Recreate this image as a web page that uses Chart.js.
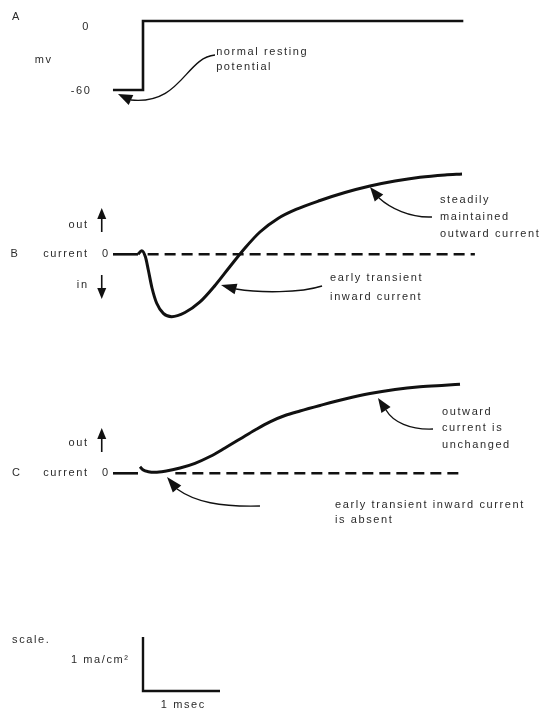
<!DOCTYPE html>
<html>
<head>
<meta charset="utf-8">
<script src="https://cdn.jsdelivr.net/npm/chart.js@4/dist/chart.umd.min.js"></script>
<style>
  html, body { margin: 0; padding: 0; background: #ffffff; }
  #wrap { width: 548px; height: 710px; }
</style>
</head>
<body>
<div id="wrap"><canvas id="c" width="548" height="710"></canvas></div>
<script>
// ---------- DATA (time in msec, voltage in mV, current in ma/cm^2) ----------
// Panel A: voltage-clamp step from resting potential to 0 mV
const stepTime = [-0.39, 0, 0, 4.16];
const stepMv   = [-60, -60, 0, 0];

// Panel B: normal membrane current
const leadBTime = [-0.39, -0.065];
const leadBCurrent = [0, 0];
const normalTime    = [-0.065, -0.017, 0.032, 0.069, 0.117, 0.178, 0.264, 0.373, 0.545, 0.740, 0.935, 1.130, 1.325, 1.519, 1.753, 1.987, 2.299, 2.623, 2.948, 3.273, 3.597, 3.922, 4.143];
const normalCurrent = [0, 0.067, -0.05, -0.291, -0.624, -0.907, -1.093, -1.156, -1.078, -0.883, -0.578, -0.226, 0.117, 0.413, 0.663, 0.830, 0.996, 1.144, 1.265, 1.357, 1.426, 1.469, 1.487];
const baselineBTime = [0.06, 4.31];
const baselineBCurrent = [0, 0];

// Panel C: current with the early inward current absent
const leadCTime = [-0.39, -0.065];
const leadCCurrent = [0, 0];
const blockedTime    = [-0.039, 0.004, 0.069, 0.156, 0.286, 0.481, 0.675, 0.870, 1.065, 1.260, 1.455, 1.649, 1.844, 2.039, 2.299, 2.623, 2.948, 3.273, 3.597, 3.922, 4.117];
const blockedCurrent = [0.122, 0.061, 0.030, 0.019, 0.039, 0.098, 0.185, 0.311, 0.469, 0.635, 0.802, 0.954, 1.070, 1.154, 1.256, 1.376, 1.478, 1.552, 1.602, 1.631, 1.648];
const baselineCTime = [0.42, 4.16];
const baselineCCurrent = [0, 0];

// Scale bar: 1 msec by 1 ma/cm^2
const scaleTime = [0, 0, 1];
const scaleValue = [1, 0, 0];

// Tick-style labels
const panelALabels = ['0', '-60'];
const panelLabels = ['A', 'B', 'C'];

// ---------- helpers ----------
const pts = (xs, ys) => xs.map((x, i) => ({ x: x, y: ys[i] }));

const lineDs = (data, axis, opts) => Object.assign({
  data: data, yAxisID: axis, borderColor: '#111', borderWidth: 3,
  pointRadius: 0, fill: false, tension: 0, borderCapStyle: 'butt', borderJoinStyle: 'round'
}, opts || {});

// ---------- annotations (text & arrows, in data units of each panel) ----------
const texts = [
  // panel A
  { axis: 'yA', t: -1.70, v: 3.5, s: panelLabels[0], align: 'left' },
  { axis: 'yA', t: -0.75, v: -4.9, s: panelALabels[0], align: 'center' },
  { axis: 'yA', t: -1.30, v: -33.9, s: 'mv', align: 'center' },
  { axis: 'yA', t: -0.69, v: -61.2, s: panelALabels[1], align: 'right' },
  { axis: 'yA', t: 0.95, v: -26.7, s: 'normal resting', align: 'left' },
  { axis: 'yA', t: 0.95, v: -39.7, s: 'potential', align: 'left' },
  // panel B
  { axis: 'yB', t: -0.727, v: 0.543, s: 'out', align: 'right' },
  { axis: 'yB', t: -1.72, v: 0, s: panelLabels[1], align: 'left' },
  { axis: 'yB', t: -0.727, v: 0, s: 'current', align: 'right' },
  { axis: 'yB', t: -0.494, v: 0, s: '0', align: 'center' },
  { axis: 'yB', t: -0.727, v: -0.569, s: 'in', align: 'right' },
  { axis: 'yB', t: 2.43, v: -0.444, s: 'early transient', align: 'left' },
  { axis: 'yB', t: 2.43, v: -0.785, s: 'inward current', align: 'left' },
  { axis: 'yB', t: 3.857, v: 1.006, s: 'steadily', align: 'left' },
  { axis: 'yB', t: 3.857, v: 0.696, s: 'maintained', align: 'left' },
  { axis: 'yB', t: 3.857, v: 0.376, s: 'outward current', align: 'left' },
  // panel C
  { axis: 'yC', t: -0.727, v: 0.556, s: 'out', align: 'right' },
  { axis: 'yC', t: -1.70, v: 0, s: panelLabels[2], align: 'left' },
  { axis: 'yC', t: -0.727, v: 0, s: 'current', align: 'right' },
  { axis: 'yC', t: -0.494, v: 0, s: '0', align: 'center' },
  { axis: 'yC', t: 3.883, v: 1.141, s: 'outward', align: 'left' },
  { axis: 'yC', t: 3.883, v: 0.833, s: 'current is', align: 'left' },
  { axis: 'yC', t: 3.883, v: 0.525, s: 'unchanged', align: 'left' },
  { axis: 'yC', t: 2.494, v: -0.586, s: 'early transient inward current', align: 'left' },
  { axis: 'yC', t: 2.494, v: -0.864, s: 'is absent', align: 'left' },
  // scale
  { axis: 'yS', t: -1.70, v: 0.944, s: 'scale.', align: 'left' },
  { axis: 'yS', t: -0.195, v: 0.574, s: '1 ma/cm\u00B2', align: 'right' },
  { axis: 'yS', t: 0.513, v: -0.259, s: '1 msec', align: 'center' }
];

const curvedArrows = [
  { axis: 'yA', p: [[0.935, -29.6], [0.55, -32.0], [0.50, -73.0], [-0.156, -68.7]], tip: [-0.325, -63.5] },
  { axis: 'yB', p: [[2.325, -0.587], [2.039, -0.717], [1.519, -0.717], [1.208, -0.643]], tip: [1.013, -0.569] },
  { axis: 'yB', p: [[3.753, 0.691], [3.468, 0.672], [3.208, 0.857], [3.065, 1.043]], tip: [2.948, 1.246] },
  { axis: 'yC', p: [[3.766, 0.820], [3.468, 0.802], [3.247, 0.950], [3.156, 1.172]], tip: [3.052, 1.394] },
  { axis: 'yC', p: [[1.519, -0.606], [1.0, -0.624], [0.675, -0.531], [0.442, -0.291]], tip: [0.312, -0.069] }
];

const straightArrows = [
  { axis: 'yB', t: -0.536, from: 0.413, to: 0.857 },
  { axis: 'yB', t: -0.536, from: -0.383, to: -0.828 },
  { axis: 'yC', t: -0.536, from: 0.394, to: 0.839 }
];

function arrowHead(ctx, bx, by, tx, ty, len, half) {
  const a = Math.atan2(ty - by, tx - bx);
  const cx = tx - Math.cos(a) * len, cy = ty - Math.sin(a) * len;
  ctx.beginPath();
  ctx.moveTo(tx, ty);
  ctx.lineTo(cx + Math.sin(a) * half, cy - Math.cos(a) * half);
  ctx.lineTo(cx - Math.sin(a) * half, cy + Math.cos(a) * half);
  ctx.closePath();
  ctx.fill();
}

const annotatePlugin = {
  id: 'annotate',
  afterDatasetsDraw(chart) {
    const ctx = chart.ctx;
    const X = v => chart.scales.x.getPixelForValue(v);
    const Y = (ax, v) => chart.scales[ax].getPixelForValue(v);
    ctx.save();
    // text
    ctx.fillStyle = '#2b2b2b';
    ctx.font = '11px "Liberation Sans", Arial, sans-serif';
    ctx.textBaseline = 'middle';
    if ('letterSpacing' in ctx) ctx.letterSpacing = '1.6px';
    texts.forEach(o => {
      ctx.textAlign = o.align;
      let x = X(o.t);
      if (o.align === 'right' && 'letterSpacing' in ctx) x += 1.6;
      if (o.align === 'center' && 'letterSpacing' in ctx) x += 0.8;
      ctx.fillText(o.s, x, Y(o.axis, o.v));
    });
    // curved arrows
    ctx.strokeStyle = '#111';
    ctx.fillStyle = '#111';
    ctx.lineWidth = 1.4;
    curvedArrows.forEach(a => {
      const q = a.p.map(p => [X(p[0]), Y(a.axis, p[1])]);
      const tip = [X(a.tip[0]), Y(a.axis, a.tip[1])];
      ctx.beginPath();
      ctx.moveTo(q[0][0], q[0][1]);
      ctx.bezierCurveTo(q[1][0], q[1][1], q[2][0], q[2][1], q[3][0], q[3][1]);
      ctx.stroke();
      const len = Math.hypot(tip[0] - q[3][0], tip[1] - q[3][1]);
      arrowHead(ctx, q[3][0], q[3][1], tip[0], tip[1], len, 5.5);
    });
    // straight out/in arrows
    ctx.lineWidth = 1.6;
    straightArrows.forEach(a => {
      const x = X(a.t), y0 = Y(a.axis, a.from), y1 = Y(a.axis, a.to);
      ctx.beginPath();
      ctx.moveTo(x, y0);
      ctx.lineTo(x, y1 + (y1 < y0 ? 6 : -6));
      ctx.stroke();
      arrowHead(ctx, x, y0, x, y1, 11, 4.5);
    });
    ctx.restore();
  }
};

new Chart(document.getElementById('c'), {
  type: 'line',
  data: {
    datasets: [
      lineDs(pts(stepTime, stepMv), 'yA', { borderWidth: 2.6, borderJoinStyle: 'miter' }),
      lineDs(pts(baselineBTime, baselineBCurrent), 'yB', { borderWidth: 2.6, borderDash: [11, 6] }),
      lineDs(pts(leadBTime, leadBCurrent), 'yB', { borderWidth: 2.6 }),
      lineDs(pts(normalTime, normalCurrent), 'yB', { cubicInterpolationMode: 'monotone', borderWidth: 3 }),
      lineDs(pts(leadCTime, leadCCurrent), 'yC', { borderWidth: 2.6 }),
      lineDs(pts(baselineCTime, baselineCCurrent), 'yC', { borderWidth: 2.6, borderDash: [11, 6] }),
      lineDs(pts(blockedTime, blockedCurrent), 'yC', { cubicInterpolationMode: 'monotone', borderWidth: 3 }),
      lineDs(pts(scaleTime, scaleValue), 'yS', { borderWidth: 2.4, borderJoinStyle: 'miter' })
    ]
  },
  options: {
    responsive: false,
    animation: false,
    devicePixelRatio: 1,
    layout: { padding: 0 },
    plugins: { legend: { display: false }, tooltip: { enabled: false } },
    scales: {
      x:  { type: 'linear', display: false, min: -143 / 77, max: 405 / 77 },
      yA: { type: 'linear', display: false, position: 'left', min: -689 / 1.15, max: 21 / 1.15 },
      yB: { type: 'linear', display: false, position: 'left', min: -455.7 / 54, max: 254.3 / 54 },
      yC: { type: 'linear', display: false, position: 'left', min: -236.7 / 54, max: 473.3 / 54 },
      yS: { type: 'linear', display: false, position: 'left', min: -19 / 54, max: 691 / 54 }
    }
  },
  plugins: [annotatePlugin]
});
</script>
</body>
</html>
